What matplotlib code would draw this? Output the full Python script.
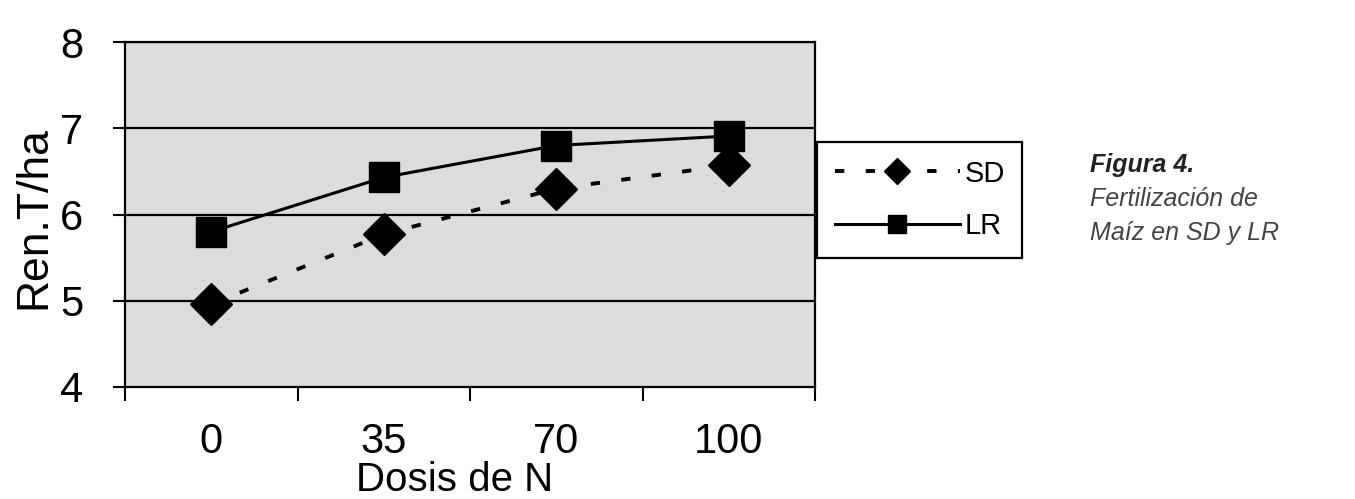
import matplotlib
matplotlib.use("Agg")
import matplotlib.pyplot as plt
from matplotlib.ticker import FixedLocator

plt.rcParams['font.family'] = ['Liberation Sans', 'DejaVu Sans']

categories = ["0", "35", "70", "100"]
sd_values = [4.96, 5.77, 6.30, 6.57]
lr_values = [5.80, 6.43, 6.80, 6.91]
y_ticks = [4, 5, 6, 7, 8]

fig = plt.figure(figsize=(13.55, 4.99), dpi=100)
ax = fig.add_axes([125/1355, 1-387/499, 690/1355, 345/499])
ax.set_facecolor('#dcdcdc')

x = list(range(len(categories)))
sd_line, = ax.plot(x, sd_values, color='black', lw=2.8, linestyle=(0, (2.4, 5.5)),
                   marker='D', markersize=21, label='SD', zorder=3)
lr_line, = ax.plot(x, lr_values, color='black', lw=2.2, linestyle='-',
                   marker='s', markersize=22, label='LR', zorder=4)

ax.set_xlim(-0.5, len(categories) - 0.5)
ax.set_ylim(4, 8)
ax.set_yticks(y_ticks)
ax.set_yticklabels([str(v) for v in y_ticks])
ax.set_xticks(x)
ax.set_xticklabels(categories)
ax.xaxis.set_minor_locator(FixedLocator([i - 0.5 for i in range(len(categories) + 1)]))
ax.tick_params(axis='x', which='major', length=0, pad=25, labelsize=30)
ax.tick_params(axis='x', which='minor', length=10, width=1.5, direction='out')
ax.tick_params(axis='y', which='major', length=9, width=1.5, direction='out', pad=21, labelsize=30)

for v in y_ticks[1:]:
    ax.axhline(v, color='black', lw=1.6, zorder=1)
for s in ax.spines.values():
    s.set_linewidth(1.6)
    s.set_color('black')

ax.set_xlabel('Dosis de N', fontsize=29)
ax.xaxis.label.set_va('center')
ax.xaxis.set_label_coords(0.477, -0.27)
ax.set_ylabel('Ren.T/ha', fontsize=32)
ax.yaxis.label.set_va('center')
ax.yaxis.set_label_coords(-0.132, 0.49)

leg = fig.legend(handles=[sd_line, lr_line], loc='upper left',
                 bbox_to_anchor=(817/1355, 1-142/499), fontsize=21,
                 handlelength=4.3, frameon=True, fancybox=False,
                 edgecolor='black', facecolor='white', framealpha=1,
                 borderpad=0.6, labelspacing=0.85, handletextpad=0.15,
                 borderaxespad=0)
leg.get_frame().set_linewidth(1.6)
for h in leg.legend_handles:
    h.set_markersize(13)

fig.text(1090/1355, 1-172/499, 'Figura 4.', fontsize=18, fontweight='bold',
         fontstyle='italic', color='#222222', va='baseline')
fig.text(1090/1355, 1-206/499, 'Fertilización de', fontsize=18,
         fontstyle='italic', color='#444444', va='baseline')
fig.text(1090/1355, 1-240/499, 'Maíz en SD y LR', fontsize=18,
         fontstyle='italic', color='#444444', va='baseline')

fig.savefig('out.png', dpi=100)
